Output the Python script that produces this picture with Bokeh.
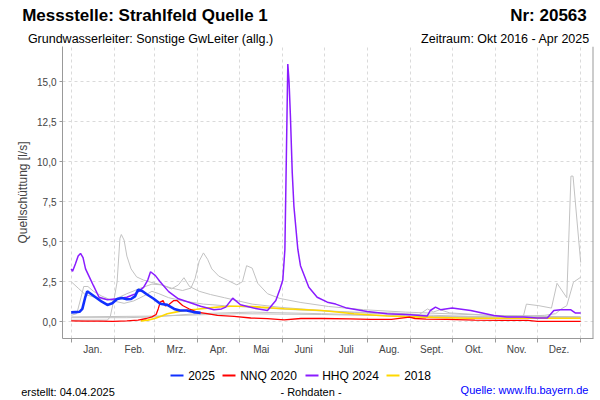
from bokeh.plotting import figure
from bokeh.models import (FixedTicker, Span, Range1d, LinearAxis,
                          CustomJSTickFormatter)
from bokeh.embed import file_html
from bokeh.resources import INLINE

FONT = "Liberation Sans"

# ---------------- data ----------------
month_labels = ["Jan.", "Feb.", "Mrz.", "Apr.", "Mai", "Juni", "Juli", "Aug.",
                "Sept.", "Okt.", "Nov.", "Dez."]
month_starts = [0, 31, 60, 91, 121, 152, 182, 213, 244, 274, 305, 335, 366]
y_ticks = [0, 2.5, 5, 7.5, 10, 12.5, 15]

# 2025 (blue)
blue_d = [0, 3, 6, 8, 10, 11.5, 14, 18, 22, 26, 29.5, 33, 36.5, 40, 43, 46, 48, 51,
          54.5, 59, 64, 69, 74, 78, 83, 88, 93]
blue_v = [0.58, 0.6, 0.62, 0.8, 1.5, 1.9, 1.75, 1.5, 1.25, 1.05, 1.15, 1.42, 1.48,
          1.4, 1.42, 1.6, 2.0, 1.92, 1.7, 1.45, 1.12, 1.05, 0.8, 0.7, 0.7, 0.6, 0.55]

# NNQ 2020 (red)
red_d = [0, 10, 20, 30, 40, 48, 54, 58, 61, 62.5, 64, 66, 67.7, 70, 73.7, 76, 80,
         84.5, 90.5, 97.7, 105, 117, 129, 141, 153, 165, 180, 200, 215, 230, 243,
         247, 255, 270, 290, 310, 328, 335, 366]
red_v = [0.05, 0.04, 0.03, 0.02, 0.05, 0.1, 0.2, 0.3, 0.45, 0.8, 1.22, 1.32, 0.98,
         1.06, 1.32, 1.32, 1.01, 0.81, 0.6, 0.5, 0.39, 0.33, 0.23, 0.19, 0.12, 0.2,
         0.2, 0.18, 0.15, 0.14, 0.28, 0.2, 0.16, 0.14, 0.1, 0.08, 0.08, 0.02, 0.02]

# HHQ 2024 (purple)
pur_d = [0, 1, 3, 5, 6.7, 8.5, 10.3, 13, 16, 20, 26, 33, 40, 46, 52, 55, 57, 60.5,
         64, 70, 77, 84.5, 93, 102.5, 108, 111, 116, 121.6, 131, 141, 147, 150, 152,
         153.5, 154.5, 155.6, 156.5, 157.5, 158.8, 160, 162.8, 164.7, 170.7, 176.7,
         184, 190, 198, 212.6, 227, 243.7, 255.7, 258, 261.7, 265.3, 273.7, 287,
         303.6, 313, 325, 334.7, 342, 346.7, 351.5, 358.7, 362.3, 366]
pur_v = [3.3, 3.15, 3.6, 4.1, 4.27, 4.0, 3.3, 2.8, 2.25, 1.53, 1.37, 1.43, 1.53,
         1.74, 2.15, 2.6, 3.12, 2.88, 2.48, 1.88, 1.43, 1.22, 0.97, 0.75, 0.8, 0.91,
         1.47, 1.06, 0.85, 0.70, 1.32, 2.05, 2.6, 4.5, 10.0, 16.1, 15.0, 12.8, 9.3,
         7.2, 4.53, 3.5, 2.15, 1.53, 1.22, 1.1, 0.85, 0.64, 0.5, 0.43, 0.35, 0.7,
         0.91, 0.75, 0.85, 0.7, 0.39, 0.29, 0.29, 0.23, 0.23, 0.7, 0.75, 0.75, 0.54,
         0.54]

# 2018 (yellow)
yel_d = [50, 55, 60, 65, 69, 75, 81, 90, 97.7, 106, 114.4, 121.6, 130, 136, 145,
         153, 165, 180, 203, 227, 240, 260, 285, 320, 366]
yel_v = [0.05, 0.1, 0.2, 0.35, 0.5, 0.6, 0.7, 0.78, 0.85, 0.92, 0.97, 0.97, 0.95,
         0.91, 0.86, 0.81, 0.76, 0.7, 0.5, 0.36, 0.32, 0.27, 0.22, 0.22, 0.22]

# other years (grey)
grey_a_d = [0, 26, 28, 31, 33, 35, 36, 38, 40, 43, 47, 52, 58, 65, 72, 77, 81, 85,
            92, 100, 110, 120, 130, 150, 180, 220, 260, 300, 335, 366]
grey_a_v = [0.1, 0.1, 0.3, 1.5, 2.5, 5.2, 5.45, 5.1, 4.1, 3.3, 2.8, 2.6, 2.45, 2.3,
            2.05, 2.3, 2.75, 2.2, 1.9, 1.7, 1.5, 1.3, 1.1, 0.9, 0.7, 0.5, 0.4, 0.3,
            0.28, 0.25]
grey_b_d = [0, 5, 10, 20, 30, 40, 50, 58, 65, 72, 80, 86, 89, 92, 95, 98, 101, 106,
            112, 119, 123, 126, 130, 134, 141, 150, 165, 185, 210, 240, 270, 300,
            330, 366]
grey_b_v = [2.5, 2.1, 1.7, 1.45, 1.35, 1.75, 2.1, 2.35, 2.3, 2.1, 1.95, 2.1, 2.7,
            3.8, 4.3, 3.9, 3.3, 2.85, 2.6, 2.3, 2.5, 3.5, 3.35, 2.4, 1.75, 1.45, 1.2,
            0.95, 0.75, 0.6, 0.5, 0.4, 0.35, 0.3]
grey_c_d = [0, 60, 120, 180, 240, 300, 322, 325, 327, 336, 345, 349, 356, 359,
            360.5, 366]
grey_c_v = [0.3, 0.35, 0.5, 0.45, 0.35, 0.25, 0.2, 0.4, 1.1, 1.0, 0.85, 2.4, 1.5,
            9.1, 9.1, 3.7]
grey_d_d = [274, 300, 327, 340, 348, 352, 356, 360.8, 366]
grey_d_v = [0.3, 0.3, 0.35, 0.4, 0.5, 0.8, 1.0, 2.47, 2.78]
grey_e_d = [0, 40, 60, 90, 130, 180, 240, 300, 366]
grey_e_v = [0.25, 0.25, 0.3, 0.5, 0.6, 0.5, 0.35, 0.3, 0.25]
grey_f_d = [0, 4, 7, 9, 12, 16, 22, 30, 38, 45, 52, 58, 63, 70, 80, 95, 110, 130,
            160, 200, 230, 250, 256, 260, 265, 272, 300, 330, 366]
grey_f_v = [0.4, 0.5, 1.5, 2.2, 2.2, 1.9, 1.6, 1.3, 1.15, 1.3, 1.6, 1.9, 1.75, 1.5,
            1.3, 1.1, 1.0, 0.9, 0.75, 0.6, 0.55, 0.45, 0.8, 0.6, 0.75, 0.55, 0.4,
            0.35, 0.3]

greys = [(grey_a_d, grey_a_v), (grey_b_d, grey_b_v), (grey_c_d, grey_c_v),
         (grey_d_d, grey_d_v), (grey_e_d, grey_e_v), (grey_f_d, grey_f_v)]

# header / legend / footer texts
title_texts = ["Messstelle: Strahlfeld Quelle 1", "Nr: 20563"]
subtitle_texts = ["Grundwasserleiter: Sonstige GwLeiter (allg.)",
                  "Zeitraum: Okt 2016 - Apr 2025"]
legend_texts = ["2025", "NNQ 2020", "HHQ 2024", "2018"]
legend_colors = ["#1030ff", "#ff0000", "#8a1cff", "#ffd800"]
footer_texts = ["erstellt:  04.04.2025", "- Rohdaten -"]
source_texts = ["Quelle: www.lfu.bayern.de"]

x_start, x_end = -6.25, 375.2
y_start, y_end = -1.05, 17.2

W, H = 600, 400
LEFT, RIGHT, TOP, BOTTOM = 62, 7, 46, 60

# ---------------- main plot ----------------
p = figure(width=W, height=H, output_backend="svg", toolbar_location=None,
           x_range=Range1d(x_start, x_end), y_range=Range1d(y_start, y_end),
           min_border_left=LEFT, min_border_right=RIGHT, min_border_top=TOP,
           min_border_bottom=BOTTOM)
# pixel-like helper range spanning the frame (used only to place header/legend/footer)
p.extra_x_ranges = {"px": Range1d(LEFT, W - RIGHT)}
p.outline_line_color = None

for gd, gv in greys:
    p.line(gd, gv, line_color="#c2c2c2", line_width=1)

r_yel = p.line(yel_d, yel_v, line_color=legend_colors[3], line_width=1.6)
r_pur = p.line(pur_d, pur_v, line_color=legend_colors[2], line_width=1.5)
r_red = p.line(red_d, red_v, line_color=legend_colors[1], line_width=1.3)
r_blue = p.line(blue_d, blue_v, line_color=legend_colors[0], line_width=2.6)

p.xgrid.ticker = FixedTicker(ticks=month_starts)
p.ygrid.ticker = FixedTicker(ticks=y_ticks)
for g in (p.xgrid, p.ygrid):
    g.grid_line_color = "#dadada"
    g.grid_line_dash = "3 3"
    g.grid_line_width = 1

ya = p.yaxis[0]
ya.ticker = FixedTicker(ticks=y_ticks)
ya.formatter = CustomJSTickFormatter(code="return tick.toFixed(1).replace('.', ',');")
ya.axis_label = "Quellschüttung [l/s]"
ya.axis_label_text_font = FONT
ya.axis_label_text_font_size = "12px"
ya.axis_label_text_font_style = "normal"
ya.axis_label_standoff = 4
ya.major_label_text_font = FONT
ya.major_label_text_font_size = "10px"
ya.major_label_standoff = 3
ya.major_tick_in = 0
ya.major_tick_out = 3
ya.minor_tick_line_color = None
ya.axis_line_color = "#999999"
ya.major_tick_line_color = "#999999"

xa = p.xaxis[0]
month_mids = [(a + b) / 2 for a, b in zip(month_starts[:-1], month_starts[1:])]
xa.ticker = FixedTicker(ticks=month_mids, minor_ticks=month_starts)
xa.formatter = CustomJSTickFormatter(args=dict(labels=month_labels),
                                     code="return labels[index];")
xa.major_label_text_font = FONT
xa.major_label_text_font_size = "10px"
xa.major_tick_line_color = None
xa.major_tick_in = 0
xa.major_tick_out = 4
xa.major_label_standoff = 1
xa.minor_tick_in = 0
xa.minor_tick_out = 4
xa.minor_tick_line_color = "#999999"
xa.axis_line_color = "#999999"

p.add_layout(Span(location=x_end, dimension="height", line_color="#999999",
                  line_width=2))


def text_axis(texts, centers, size, style="normal", color="black", standoff=0):
    ax = LinearAxis(x_range_name="px",
                    ticker=FixedTicker(ticks=centers, minor_ticks=[]),
                    formatter=CustomJSTickFormatter(args=dict(labels=texts),
                                                    code="return labels[index];"))
    ax.axis_line_color = None
    ax.major_tick_line_color = None
    ax.minor_tick_line_color = None
    ax.major_tick_in = 0
    ax.major_tick_out = 0
    ax.major_label_standoff = standoff
    ax.major_label_text_font = FONT
    ax.major_label_text_font_size = size
    ax.major_label_text_font_style = style
    ax.major_label_text_color = color
    return ax


def rule_axis(start, end, color, width=2):
    ax = LinearAxis(x_range_name="px", bounds=(start, end),
                    ticker=FixedTicker(ticks=[], minor_ticks=[]))
    ax.axis_line_color = color
    ax.axis_line_width = width
    ax.major_tick_line_color = None
    ax.minor_tick_line_color = None
    ax.major_tick_in = 0
    ax.major_tick_out = 0
    ax.major_label_standoff = 0
    return ax


# header rows (closest to the frame first)
p.add_layout(text_axis(subtitle_texts, [150, 505], "12.5px", standoff=1), "above")
p.add_layout(text_axis(title_texts, [144.5, 548], "17px", style="bold", standoff=4),
             "above")

# legend row: a blank (white, 1px) spacer row, then line samples and labels
p.add_layout(text_axis(["."], [327], "1px", color="#ffffff", standoff=14), "below")
legend_lines = [(170, 183), (222, 235), (305, 318), (386, 399)]
for (a, b), c in zip(legend_lines, legend_colors):
    p.add_layout(rule_axis(a, b, c), "below")
p.add_layout(text_axis(legend_texts, [201, 268, 350, 417], "12px", standoff=-7),
             "below")

# footer row
p.add_layout(text_axis(source_texts, [524], "11px", color="#0000ff", standoff=-2),
             "below")
p.add_layout(text_axis(footer_texts, [69, 310.5], "11px", standoff=-13), "below")

open("out.html", "w").write(file_html(p, INLINE))
